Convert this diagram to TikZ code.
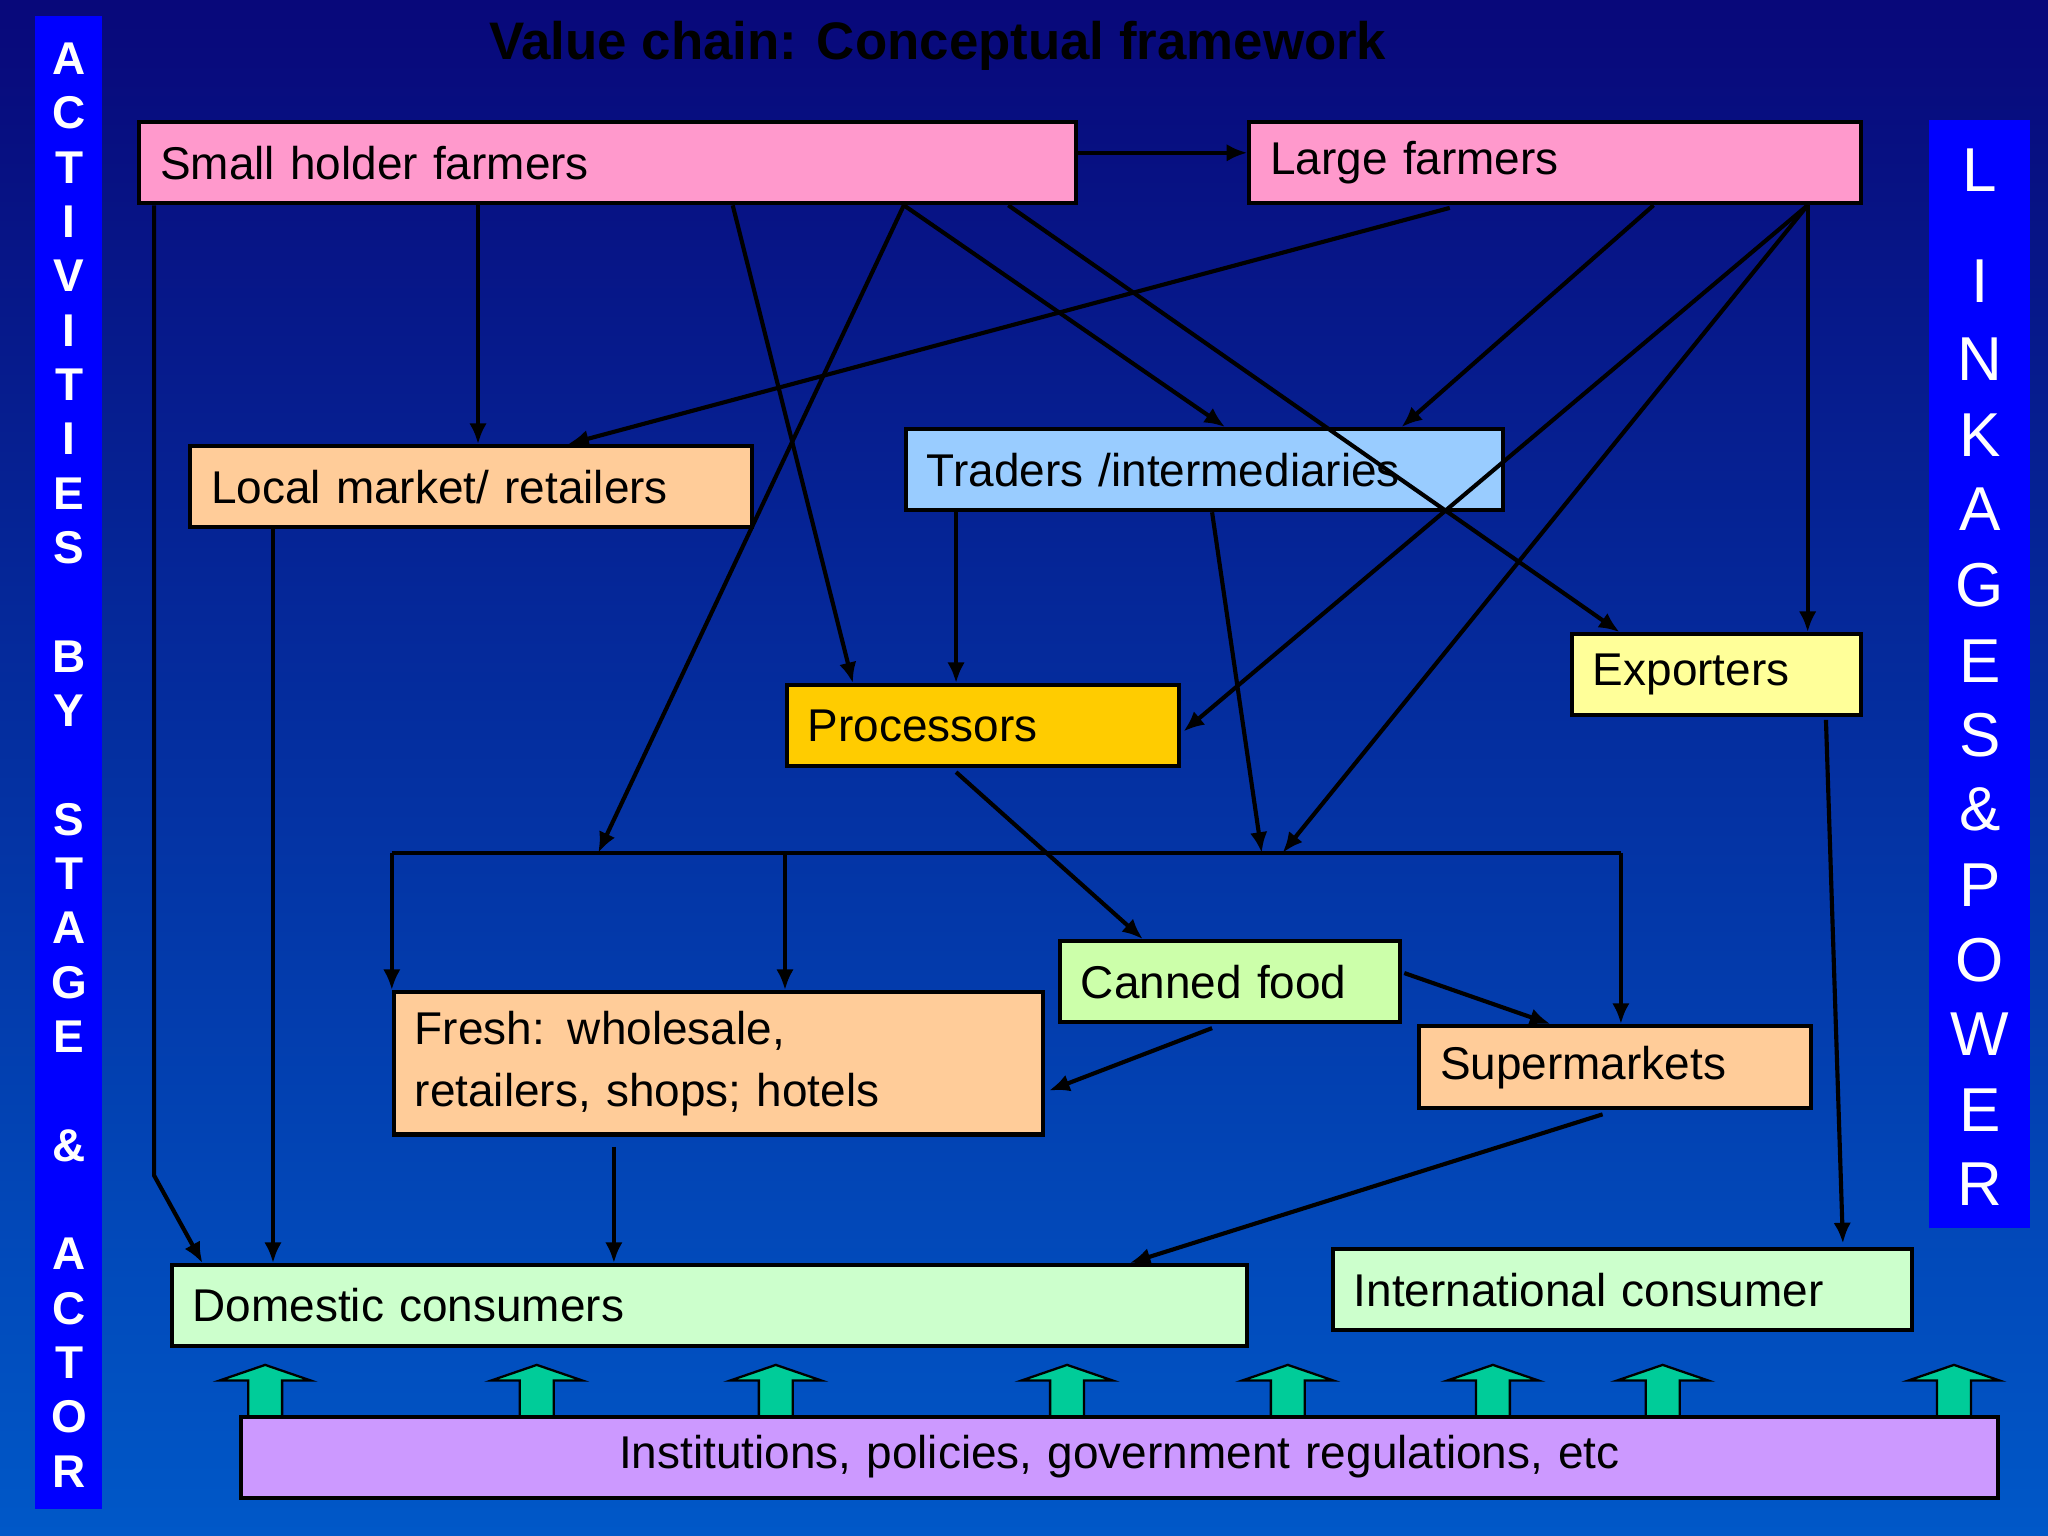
\documentclass[tikz,border=0pt]{standalone}
\usepackage{fontspec}
\setmainfont{Liberation Sans}
\usetikzlibrary{calc,arrows.meta}
\newlength\pxl
\setlength\pxl{0.01cm}
\definecolor{bgtop}{HTML}{08087A}
\definecolor{bgbot}{HTML}{0058C8}
\definecolor{barblue}{HTML}{0000FF}
\definecolor{cpink}{HTML}{FF99CC}
\definecolor{corange}{HTML}{FFCC99}
\definecolor{cblue}{HTML}{99CCFF}
\definecolor{cyellow}{HTML}{FFFF99}
\definecolor{cgold}{HTML}{FFCC00}
\definecolor{cgreen}{HTML}{CCFFAA}
\definecolor{cpale}{HTML}{CCFFCC}
\definecolor{cviolet}{HTML}{CC99FF}
\definecolor{cteal}{HTML}{00CC99}
\begin{document}
\begin{tikzpicture}[x=0.01cm,y=-0.01cm,
  box/.style={draw=black,line width=0.9pt,anchor=north west,inner sep=0pt,inner xsep=16\pxl,font=\fontsize{10}{13.5}\selectfont},
  conn/.style={line width=0.9pt,-{Latex[length=4.5pt,width=3.8pt]}},
  barletter/.style={text=white,font=\fontsize{10}{10}\selectfont\bfseries},
  rletter/.style={text=white,font=\fontsize{13.5}{13}\selectfont}]
\shade[top color=bgtop,bottom color=bgbot] (0,0) rectangle (1568,1176);
\useasboundingbox (0,0) rectangle (1568,1176);
% side bars
\fill[barblue] (27,12) rectangle (78,1155);
\foreach \l/\i in {A/0,C/1,T/2,I/3,V/4,I/5,T/6,I/7,E/8,S/9,B/11,Y/12,S/14,T/15,A/16,G/17,E/18,\&/20,A/22,C/23,T/24,O/25,R/26}
  \node[barletter] (L\i) at (53,{45+41.6*\i}) {\l};
\fill[barblue] (1477,92) rectangle (1554,940);
\foreach \l/\y [count=\k] in {L/130,I/215,N/275,K/333,A/390,G/448,E/506,S/563,\&/620,P/678,O/735,W/792,E/850,R/907}
  \node[rletter] (R\k) at (1516,\y) {\l};
\node[font=\fontsize{11.5}{12}\selectfont\bfseries,text=black] (title) at (718,35) {Value chain: Conceptual framework};
% boxes
\node[box,fill=cpink,minimum width=717\pxl,minimum height=62\pxl,text width=685\pxl,align=left] (small) at (105,92) {Small holder farmers};
\node[box,fill=cpink,minimum width=468\pxl,minimum height=62\pxl,text width=436\pxl,align=left] (large) at (955,92) {Large farmers};
\node[box,fill=corange,minimum width=430\pxl,minimum height=62\pxl,text width=398\pxl,align=left] (local) at (144,340) {Local market/ retailers};
\node[box,fill=cblue,minimum width=457\pxl,minimum height=62\pxl,text width=425\pxl,align=left] (traders) at (692,327) {Traders /intermediaries};
\node[box,fill=cyellow,minimum width=221\pxl,minimum height=62\pxl,text width=189\pxl,align=left] (exporters) at (1202,484) {Exporters};
\node[box,fill=cgold,minimum width=300\pxl,minimum height=62\pxl,text width=268\pxl,align=left] (processors) at (601,523) {Processors};
\node[box,fill=cgreen,minimum width=260\pxl,minimum height=62\pxl,text width=228\pxl,align=left] (canned) at (810,719) {Canned food};
\node[box,fill=corange,minimum width=497\pxl,minimum height=109\pxl,text width=465\pxl,align=left] (fresh) at (300,758) {Fresh: wholesale,\\retailers, shops; hotels};
\node[box,fill=corange,minimum width=300\pxl,minimum height=63\pxl,text width=268\pxl,align=left] (super) at (1085,784) {Supermarkets};
\node[box,fill=cpale,minimum width=823\pxl,minimum height=62\pxl,text width=791\pxl,align=left] (domestic) at (130,967) {Domestic consumers};
\node[box,fill=cpale,minimum width=443\pxl,minimum height=62\pxl,text width=411\pxl,align=left] (intl) at (1019,955) {International consumer};
% green arrows
\foreach \c in {203,411,594,817,986,1143,1273,1496}
  \draw[fill=cteal,line width=0.5pt] (\c-13,1085) -- (\c-13,1057) -- (\c-35,1057) -- (\c,1045) -- (\c+35,1057) -- (\c+13,1057) -- (\c+13,1085) -- cycle;
\node[box,fill=cviolet,minimum width=1345\pxl,minimum height=62\pxl,text width=1313\pxl,align=center] (inst) at (183,1083) {Institutions, policies, government regulations, etc};
% bus
\coordinate (bL) at (300,653);
\coordinate (bR) at (1241,653);
\draw[line width=0.9pt] (bL) -- (bR);
% connectors
\draw[conn] (small.east |- 0,117) -- (large.west |- 0,117);
\draw[conn] ($(small.south west)+(261,0)$) -- ($(local.north west)+(222,0)$);
\draw[conn] ($(large.south west)+(155,2)$) -- ($(local.north west)+(291,0)$);
\draw[conn] ($(small.south west)+(456,0)$) -- ($(processors.north west)+(52,0)$);
\draw[conn] ($(small.south west)+(587,0)$) -- ($(bL)+(158,0)$);
\draw[conn] ($(small.south west)+(587,0)$) -- ($(traders.north west)+(246,0)$);
\draw[conn] ($(small.south west)+(667,0)$) -- ($(exporters.north west)+(38,0)$);
\draw[conn] ($(large.south west)+(311,0)$) -- ($(traders.north west)+(381,0)$);
\draw[conn] ($(large.south west)+(429,0)$) -- ($(processors.north east)+(2,37)$);
\draw[conn] ($(large.south west)+(429,0)$) -- ($(bL)+(682,0)$);
\draw[conn] ($(large.south west)+(429,0)$) -- ($(exporters.north west)+(182,0)$);
\draw[conn] ($(small.south west)+(13,0)$) -- (118,900) -- ($(domestic.north west)+(25,0)$);
\draw[conn] ($(local.south west)+(65,0)$) -- ($(domestic.north west)+(79,0)$);
\draw[conn] ($(traders.south west)+(40,0)$) -- ($(processors.north west)+(131,0)$);
\draw[conn] ($(traders.south west)+(236,0)$) -- ($(bL)+(666,0)$);
\draw[conn] ($(processors.south west)+(131,3)$) -- ($(canned.north west)+(65,0)$);
\draw[conn] (bL) -- (fresh.north west);
\draw[conn] ($(bL)+(301,0)$) -- ($(fresh.north west)+(301,0)$);
\draw[conn] (bR) -- ($(super.north west)+(156,0)$);
\draw[conn] ($(canned.north east)+(2,26)$) -- ($(super.north west)+(102,0)$);
\draw[conn] ($(canned.south west)+(118,3)$) -- ($(fresh.north east)+(3,77)$);
\draw[conn] ($(fresh.south west)+(170,8)$) -- ($(domestic.north west)+(340,0)$);
\draw[conn] ($(super.south west)+(142,3)$) -- ($(domestic.north west)+(735,0)$);
\draw[conn] ($(exporters.south west)+(196,2)$) -- ($(intl.north west)+(392,-3)$);
\end{tikzpicture}
\end{document}
